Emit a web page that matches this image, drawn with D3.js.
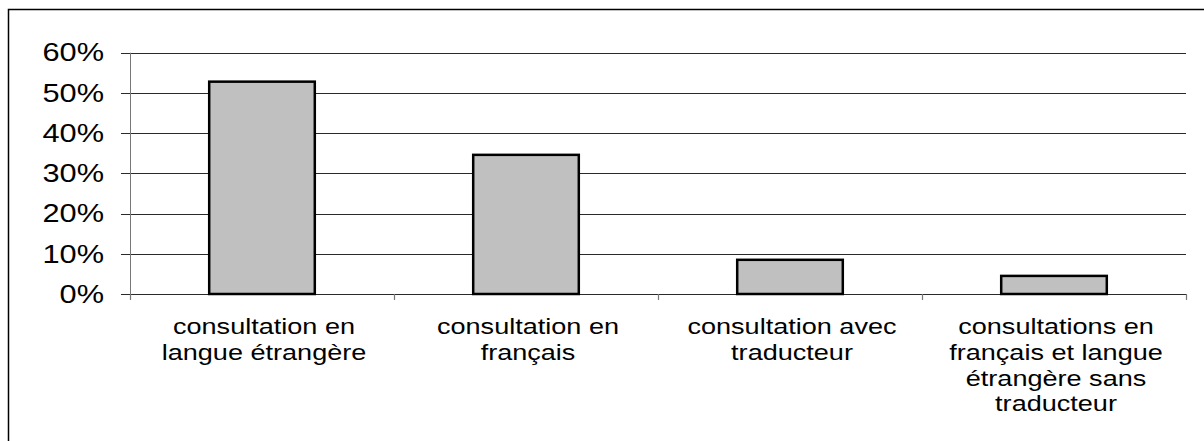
<!DOCTYPE html>
<html>
<head>
<meta charset="utf-8">
<script src="https://cdn.jsdelivr.net/npm/d3@7"></script>
<style>
  html, body { margin: 0; padding: 0; background: #fff; }
  svg { display: block; }
  text { font-family: "Liberation Sans", Arial, sans-serif; fill: #000; }
</style>
</head>
<body>
<svg id="chart" width="1204" height="441"></svg>
<script>
// Category labels (line breaks as laid out under each bar)
const categories = [
  "consultation en\nlangue étrangère",
  "consultation en\nfrançais",
  "consultation avec\ntraducteur",
  "consultations en\nfrançais et langue\nétrangère sans\ntraducteur"
];
// Share of consultations per category
const values = [0.528, 0.346, 0.085, 0.045];
// Y axis ticks
const yTicks = [0, 0.1, 0.2, 0.3, 0.4, 0.5, 0.6];

const svg = d3.select("#chart");
const plot = { left: 130, right: 1186, top: 52.7, bottom: 294 };
const stretch = 1.23;

// Outer frame (left and top edges visible)
svg.append("path")
  .attr("d", "M8.5,441 L8.5,9.5 L1204,9.5")
  .attr("fill", "none")
  .attr("stroke", "#000")
  .attr("stroke-width", 1.5);

const x = d3.scaleBand()
  .domain(categories)
  .range([plot.left, plot.right])
  .paddingInner(0.6)
  .paddingOuter(0.3);

const y = d3.scaleLinear()
  .domain([0, 0.6])
  .range([plot.bottom, plot.top]);

// Horizontal gridlines
svg.append("g")
  .selectAll("line")
  .data(yTicks)
  .join("line")
  .attr("x1", plot.left - 9)
  .attr("x2", plot.right)
  .attr("y1", d => Math.round(y(d)) + 0.5)
  .attr("y2", d => Math.round(y(d)) + 0.5)
  .attr("stroke", "#2a2a2a")
  .attr("stroke-width", 1);

// Y axis line
svg.append("line")
  .attr("x1", plot.left + 0.5).attr("x2", plot.left + 0.5)
  .attr("y1", plot.top).attr("y2", plot.bottom + 6)
  .attr("stroke", "#777").attr("stroke-width", 1);

// Category boundary ticks on the x axis
const step = (plot.right - plot.left) / categories.length;
svg.append("g")
  .selectAll("line")
  .data(d3.range(categories.length + 1))
  .join("line")
  .attr("x1", i => Math.round(plot.left + i * step) + 0.5)
  .attr("x2", i => Math.round(plot.left + i * step) + 0.5)
  .attr("y1", plot.bottom)
  .attr("y2", plot.bottom + 6)
  .attr("stroke", "#777")
  .attr("stroke-width", 1.2);

// Y tick labels
const fmt = d3.format(".0%");
svg.append("g")
  .selectAll("text")
  .data(yTicks)
  .join("text")
  .attr("transform", d => `translate(104,${y(d)}) scale(${stretch},1)`)
  .attr("text-anchor", "end")
  .attr("dy", "0.35em")
  .style("font-size", "25px")
  .text(d => fmt(d));

// Bars
svg.append("g")
  .selectAll("rect")
  .data(values)
  .join("rect")
  .attr("x", (d, i) => x(categories[i]))
  .attr("y", d => y(d))
  .attr("width", x.bandwidth())
  .attr("height", d => y(0) - y(d))
  .attr("fill", "#c0c0c0")
  .attr("stroke", "#000")
  .attr("stroke-width", 2.5);

// Category labels
const labels = svg.append("g")
  .selectAll("text")
  .data(categories)
  .join("text")
  .attr("transform", d => `translate(${x(d) + x.bandwidth() / 2 + 2},334) scale(${stretch},1)`)
  .attr("text-anchor", "middle")
  .style("font-size", "22px");

labels.selectAll("tspan")
  .data(d => d.split("\n"))
  .join("tspan")
  .attr("x", 0)
  .attr("y", (d, i) => i * 25.8)
  .text(d => d);
</script>
</body>
</html>
